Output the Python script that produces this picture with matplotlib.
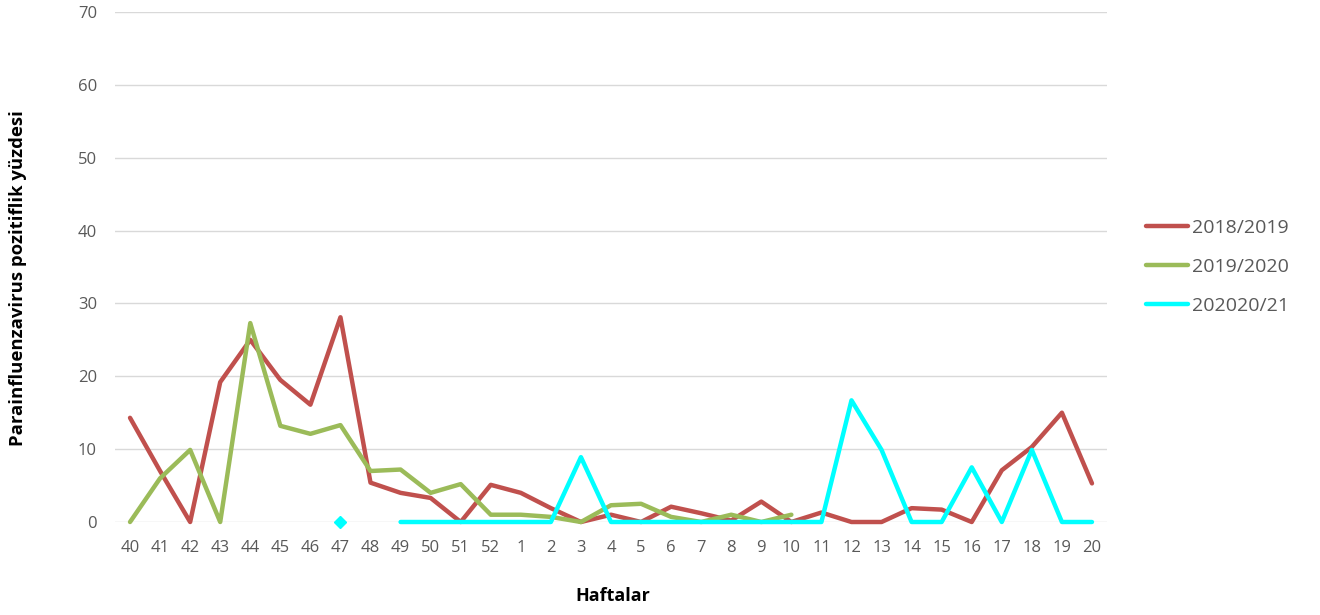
import numpy as np
import matplotlib
matplotlib.use("Agg")
import matplotlib.pyplot as plt

weeks = [str(w) for w in list(range(40, 53)) + list(range(1, 21))]

nan = np.nan
season_2018_2019 = [14.3, 7.0, 0.0, 19.2, 25.0, 19.5, 16.1, 28.1, 5.4, 4.0, 3.3, 0.0, 5.1,
                    4.0, 1.9, 0.0, 1.0, 0.0, 2.1, 1.2, 0.2, 2.8, 0.0, 1.3, 0.0, 0.0,
                    1.9, 1.7, 0.0, 7.1, 10.3, 15.0, 5.3]
season_2019_2020 = [0.0, 6.0, 9.9, 0.0, 27.3, 13.2, 12.1, 13.3, 7.0, 7.2, 4.0, 5.2, 1.0,
                    1.0, 0.7, 0.0, 2.3, 2.5, 0.7, 0.0, 1.0, 0.0, 1.0, nan, nan, nan,
                    nan, nan, nan, nan, nan, nan, nan]
season_2020_2021 = [nan, nan, nan, nan, nan, nan, nan, 0.0, nan, 0.0, 0.0, 0.0, 0.0,
                    0.0, 0.0, 8.9, 0.0, 0.0, 0.0, 0.0, 0.0, 0.0, 0.0, 0.0, 16.7, 9.9,
                    0.0, 0.0, 7.5, 0.0, 9.9, 0.0, 0.0]

series_labels = ["2018/2019", "2019/2020", "202020/21"]
series_colors = ["#C0504D", "#9BBB59", "#00FFFF"]
y_ticks = [0, 10, 20, 30, 40, 50, 60, 70]

plt.rcParams["font.family"] = ["Open Sans", "DejaVu Sans"]

W, H = 1320, 615
fig = plt.figure(figsize=(W / 100, H / 100), dpi=100)
ax = fig.add_axes([115 / W, 1 - 522 / H, (1107 - 115) / W, (522 - 12) / H])

x = np.arange(len(weeks))
all_series = [season_2018_2019, season_2019_2020, season_2020_2021]
for vals, lab, col in zip(all_series, series_labels, series_colors):
    v = np.array(vals, dtype=float)
    ax.plot(x, v, color=col, lw=3.2, label=lab, solid_capstyle="round",
            solid_joinstyle="round", zorder=3, clip_on=False)
    # isolated points (no neighbour on either side) get a diamond marker
    for i in range(len(v)):
        if np.isnan(v[i]):
            continue
        left = i == 0 or np.isnan(v[i - 1])
        right = i == len(v) - 1 or np.isnan(v[i + 1])
        if left and right:
            ax.plot(x[i], v[i], marker="D", ms=6, color=col, mec=col, zorder=4,
                    clip_on=False)

ax.set_xlim(-0.5, len(weeks) - 0.5)
ax.set_ylim(0, 70)
ax.set_yticks(y_ticks)
ax.set_xticks(x)
ax.set_xticklabels(weeks)
ax.tick_params(axis="both", length=0, labelsize=12, colors="#595959")
ax.tick_params(axis="x", pad=13)
ax.tick_params(axis="y", pad=13)
ax.grid(axis="y", color="#D9D9D9", lw=1, zorder=0)
for s in ax.spines.values():
    s.set_visible(False)

fig.text(18 / W, 1 - 278 / H, "Parainfluenzavirus pozitiflik yüzdesi",
         rotation=90, ha="center", va="center", fontsize=13.3,
         fontweight="bold", color="black")
fig.text(613 / W, 1 - 596 / H, "Haftalar", ha="center", va="center",
         fontsize=13, fontweight="bold", color="black")

leg = ax.legend(loc="center left", bbox_to_anchor=(1013 / 992, 0.5), frameon=False,
                fontsize=14, labelcolor="#595959", handlelength=2.2,
                handletextpad=0.2, labelspacing=1.08)
for h in leg.get_lines():
    h.set_linewidth(3.2)

fig.savefig("out.png", dpi=100)
